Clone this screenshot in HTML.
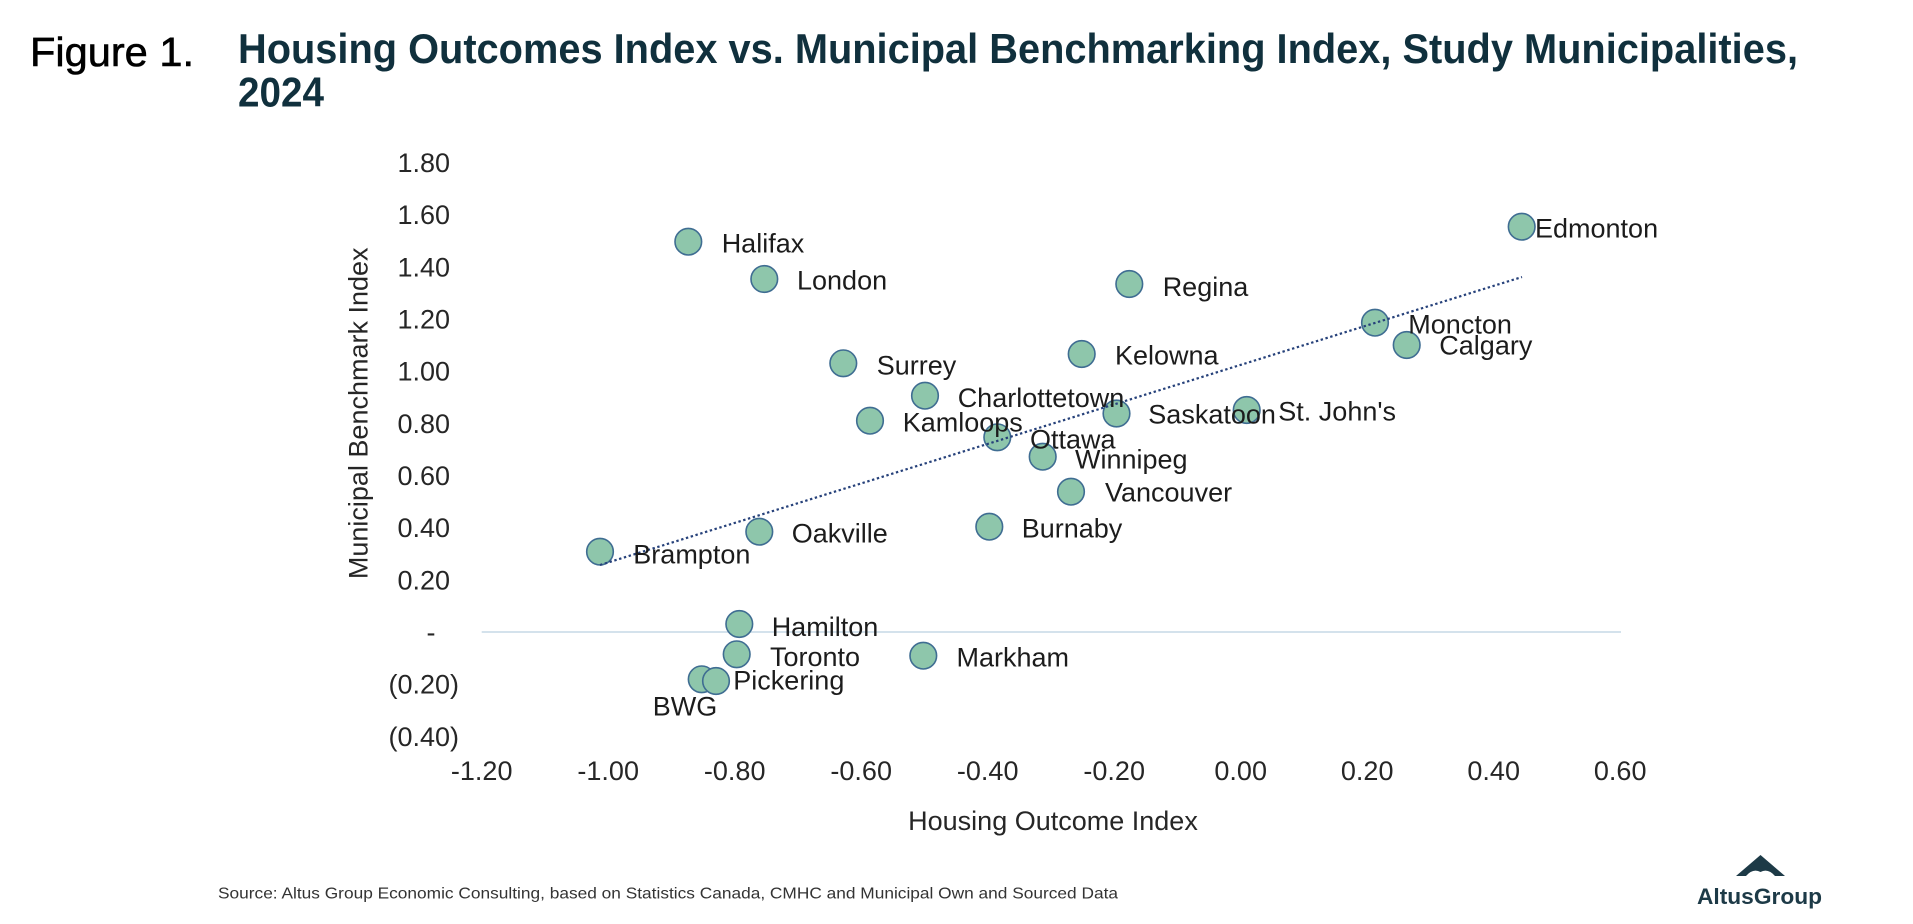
<!DOCTYPE html>
<html>
<head>
<meta charset="utf-8">
<style>
  html, body { margin: 0; padding: 0; background: #ffffff; }
  body { width: 1913px; height: 924px; overflow: hidden; }
  svg { display: block; }
  text { font-family: "Liberation Sans", Arial, sans-serif; }
</style>
</head>
<body>
<svg width="1913" height="924" viewBox="0 0 1913 924" xmlns="http://www.w3.org/2000/svg">
  <rect x="0" y="0" width="1913" height="924" fill="#ffffff"/>

  <!-- Title -->
  <text x="30" y="66" font-size="41" fill="#000000" stroke="#000000" stroke-width="0.6" textLength="164" lengthAdjust="spacingAndGlyphs">Figure 1.</text>
  <text x="238" y="63" font-size="42" font-weight="bold" fill="#10303d" textLength="1560" lengthAdjust="spacingAndGlyphs">Housing Outcomes Index vs. Municipal Benchmarking Index, Study Municipalities,</text>
  <text x="238" y="106.5" font-size="42" font-weight="bold" fill="#10303d" textLength="86" lengthAdjust="spacingAndGlyphs">2024</text>

  <!-- Y tick labels -->
  <g font-size="27" fill="#262626" text-anchor="end">
    <text x="450" y="172.1">1.80</text>
    <text x="450" y="224.2">1.60</text>
    <text x="450" y="276.4">1.40</text>
    <text x="450" y="328.5">1.20</text>
    <text x="450" y="380.7">1.00</text>
    <text x="450" y="432.9">0.80</text>
    <text x="450" y="485.0">0.60</text>
    <text x="450" y="537.2">0.40</text>
    <text x="450" y="589.3">0.20</text>
    <text x="459" y="693.7">(0.20)</text>
    <text x="459" y="745.8">(0.40)</text>
  </g>
  <text x="431" y="641.5" font-size="27" fill="#262626" text-anchor="middle">-</text>

  <!-- X tick labels -->
  <g font-size="27" fill="#262626" text-anchor="middle">
    <text x="481.7" y="780">-1.20</text>
    <text x="608.2" y="780">-1.00</text>
    <text x="734.7" y="780">-0.80</text>
    <text x="861.2" y="780">-0.60</text>
    <text x="987.7" y="780">-0.40</text>
    <text x="1114.2" y="780">-0.20</text>
    <text x="1240.7" y="780">0.00</text>
    <text x="1367.2" y="780">0.20</text>
    <text x="1493.7" y="780">0.40</text>
    <text x="1620.2" y="780">0.60</text>
  </g>

  <!-- Axis titles -->
  <text x="1053" y="830" font-size="27" fill="#262626" text-anchor="middle">Housing Outcome Index</text>
  <text transform="translate(367.5,413.3) rotate(-90)" x="0" y="0" font-size="27" fill="#262626" text-anchor="middle">Municipal Benchmark Index</text>

  <!-- Zero line -->
  <line x1="481.7" y1="632" x2="1621" y2="632" stroke="#c6d8e6" stroke-width="1.6"/>

  <!-- Data points -->
  <g fill="#8ec6ab" stroke="#3f6d92" stroke-width="1.6">
    <circle cx="688.3" cy="241.7" r="13.3"/>
    <circle cx="764.3" cy="279" r="13.3"/>
    <circle cx="843.3" cy="363.3" r="13.3"/>
    <circle cx="925" cy="395.7" r="13.3"/>
    <circle cx="870" cy="420.7" r="13.3"/>
    <circle cx="997.3" cy="437.3" r="13.3"/>
    <circle cx="1042.7" cy="456.7" r="13.3"/>
    <circle cx="1071" cy="491.7" r="13.3"/>
    <circle cx="989.3" cy="526.7" r="13.3"/>
    <circle cx="759.3" cy="531.7" r="13.3"/>
    <circle cx="600" cy="551.7" r="13.3"/>
    <circle cx="1129.3" cy="284" r="13.3"/>
    <circle cx="1081.7" cy="354" r="13.3"/>
    <circle cx="1116.5" cy="413.5" r="13.3"/>
    <circle cx="1246.7" cy="410" r="13.3"/>
    <circle cx="1521.7" cy="226.7" r="13.3"/>
    <circle cx="1375" cy="322.7" r="13.3"/>
    <circle cx="1406.7" cy="345" r="13.3"/>
    <circle cx="739.3" cy="624" r="13.3"/>
    <circle cx="736.7" cy="654.3" r="13.3"/>
    <circle cx="923.3" cy="655.7" r="13.3"/>
    <circle cx="701.7" cy="679.3" r="13.3"/>
    <circle cx="716" cy="681" r="13.3"/>
  </g>

  <!-- Trendline -->
  <line x1="600" y1="565" x2="1522" y2="277" stroke="#26417a" stroke-width="2.2" stroke-dasharray="2.4 2.6"/>

  <!-- Data labels -->
  <g font-size="27" fill="#1c1c1c">
    <text x="721.7" y="252.5">Halifax</text>
    <text x="797" y="289.5">London</text>
    <text x="876.7" y="374.5">Surrey</text>
    <text x="957.7" y="407.2">Charlottetown</text>
    <text x="902.7" y="431.5">Kamloops</text>
    <text x="1030" y="448.5">Ottawa</text>
    <text x="1075" y="468.5">Winnipeg</text>
    <text x="1105" y="501.5">Vancouver</text>
    <text x="1021.7" y="537.5">Burnaby</text>
    <text x="791.7" y="542.5">Oakville</text>
    <text x="633.3" y="563.5">Brampton</text>
    <text x="1162.7" y="296.2">Regina</text>
    <text x="1115" y="364.5">Kelowna</text>
    <text x="1148.3" y="423.5">Saskatoon</text>
    <text x="1278.3" y="420.5">St. John's</text>
    <text x="1535" y="237.5">Edmonton</text>
    <text x="1408.3" y="333.5">Moncton</text>
    <text x="1439.3" y="354.5">Calgary</text>
    <text x="771.7" y="636.2">Hamilton</text>
    <text x="770" y="666.2">Toronto</text>
    <text x="956.5" y="666.5">Markham</text>
    <text x="733.3" y="689.5">Pickering</text>
    <text x="717.3" y="715.5" text-anchor="end">BWG</text>
  </g>

  <!-- Footer source -->
  <text x="218" y="898.5" font-size="16" fill="#333333" textLength="900" lengthAdjust="spacingAndGlyphs">Source:  Altus Group Economic Consulting, based on Statistics Canada, CMHC and Municipal Own and Sourced Data</text>

  <!-- Logo -->
  <path d="M1760.5,855 L1785,876 L1736,876 Z" fill="#1d3a47"/>
  <path d="M1746,876 Q1753,868 1760.5,872 Q1768,868 1775,876 Z" fill="#ffffff"/>
  <text x="1697" y="904" font-size="22" font-weight="bold" fill="#1d3a47" textLength="125" lengthAdjust="spacingAndGlyphs">AltusGroup</text>
</svg>
</body>
</html>
